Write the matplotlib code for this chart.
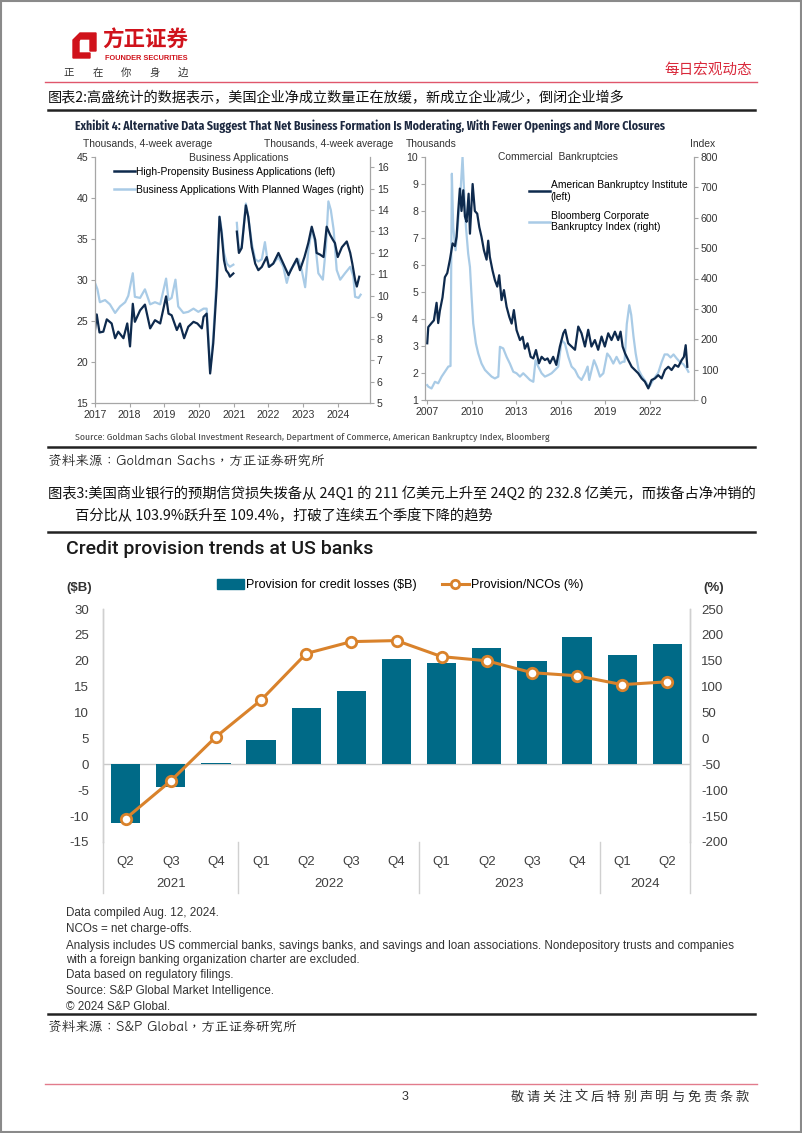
import numpy as np
import matplotlib
matplotlib.use("Agg")
import matplotlib.pyplot as plt
from matplotlib.lines import Line2D
from matplotlib.patches import Polygon, Rectangle
from matplotlib import transforms

plt.rcParams['axes.unicode_minus'] = False

# ---- data: business applications (decimal year, thousands) ----
hp_years = [2017.00, 2017.05, 2017.13, 2017.24, 2017.34, 2017.48, 2017.58, 2017.67, 2017.82, 2017.93,
            2018.01, 2018.09, 2018.15, 2018.30, 2018.44, 2018.59, 2018.73, 2018.88, 2019.05, 2019.12,
            2019.21, 2019.36, 2019.45, 2019.57, 2019.69, 2019.84, 2019.95, 2020.08, 2020.13, 2020.22,
            2020.27, 2020.32, 2020.41, 2020.51, 2020.59, 2020.65, 2020.72, 2020.78, 2020.85, 2020.89,
            2020.99, 2021.03, 2021.09, 2021.15, 2021.23, 2021.35, 2021.42, 2021.52, 2021.62, 2021.71,
            2021.81, 2021.95, 2022.02, 2022.14, 2022.29, 2022.43, 2022.58, 2022.72, 2022.82, 2022.91,
            2023.04, 2023.15, 2023.25, 2023.35, 2023.39, 2023.49, 2023.59, 2023.68, 2023.78, 2023.86,
            2023.92, 2024.00, 2024.12, 2024.26, 2024.36, 2024.42, 2024.50, 2024.55, 2024.62]
hp_apps = [23.9, 25.8, 23.6, 23.7, 25.2, 24.7, 22.9, 23.7, 22.9, 24.7,
           21.9, 27.1, 24.9, 26.3, 27.0, 24.1, 25.1, 24.7, 28.0, 25.9,
           25.7, 23.9, 24.7, 22.9, 24.3, 24.9, 24.7, 24.1, 25.5, 25.9,
           22.3, 18.6, 22.3, 29.2, 37.7, 35.7, 32.4, 31.2, 30.8, 30.4,
           30.8, np.nan, 35.9, 33.3, 33.9, 39.1, 37.7, 34.0, 32.0, 31.2,
           31.6, 32.8, 31.6, 32.0, 33.3, 32.0, 30.6, 31.8, 32.6, 31.2,
           32.8, 34.5, 36.5, 34.9, 33.3, 33.1, 32.8, 36.5, 35.5, 34.9,
           34.5, 32.8, 34.0, 34.7, 33.3, 32.0, 30.0, 29.2, 30.4]

wg_years = [2017.00, 2017.07, 2017.14, 2017.29, 2017.43, 2017.58, 2017.72, 2017.87, 2017.96, 2018.09,
            2018.15, 2018.30, 2018.44, 2018.59, 2018.73, 2018.88, 2019.05, 2019.12, 2019.21, 2019.32,
            2019.40, 2019.55, 2019.69, 2019.84, 2019.98, 2020.13, 2020.22, 2020.27, 2020.32, 2020.41,
            2020.51, 2020.59, 2020.65, 2020.72, 2020.80, 2020.89, 2020.99, 2021.03, 2021.09, 2021.15,
            2021.23, 2021.35, 2021.42, 2021.52, 2021.62, 2021.71, 2021.81, 2021.90, 2022.00, 2022.14,
            2022.29, 2022.43, 2022.53, 2022.63, 2022.77, 2022.87, 2022.96, 2023.06, 2023.15, 2023.25,
            2023.35, 2023.44, 2023.57, 2023.66, 2023.73, 2023.80, 2023.88, 2023.97, 2024.07, 2024.21,
            2024.36, 2024.45, 2024.50, 2024.60, 2024.66]
wg_apps = [10.6, 10.3, 9.7, 9.8, 9.6, 9.2, 9.5, 9.7, 10.0, 11.05,
           9.95, 9.9, 10.3, 9.6, 9.7, 9.6, 10.8, 9.8, 9.9, 10.75,
           9.5, 9.2, 9.25, 9.4, 9.25, 9.4, 9.4, 8.1, 6.5, 8.1,
           10.9, 13.7, 13.1, 12.0, 11.5, 11.35, 11.45, np.nan, 13.4, 12.1,
           12.3, 14.3, 13.7, 12.45, 11.7, 11.6, 11.7, 12.5, 11.35, 11.5,
           11.8, 11.35, 10.6, 11.2, 11.5, 11.7, 11.2, 10.4, 12.1, 13.1,
           12.45, 11.05, 10.75, 12.3, 14.4, 14.0, 13.1, 11.2, 10.75, 11.05,
           11.35, 10.9, 9.95, 9.9, 10.05]

# ---- data: commercial bankruptcies ----
abi_years = [2007.00, 2007.07, 2007.29, 2007.45, 2007.63, 2007.74, 2007.85, 2008.03, 2008.19, 2008.35,
             2008.53, 2008.71, 2008.87, 2008.98, 2009.09, 2009.20, 2009.31, 2009.43, 2009.54, 2009.65,
             2009.79, 2009.88, 2010.06, 2010.21, 2010.37, 2010.51, 2010.66, 2010.82, 2011.00, 2011.11,
             2011.22, 2011.40, 2011.56, 2011.72, 2011.85, 2012.01, 2012.17, 2012.35, 2012.53, 2012.69,
             2012.84, 2013.02, 2013.25, 2013.43, 2013.58, 2013.76, 2013.97, 2014.15, 2014.33, 2014.53,
             2014.71, 2014.93, 2015.11, 2015.27, 2015.49, 2015.70, 2015.94, 2016.17, 2016.30, 2016.50,
             2016.73, 2016.96, 2017.18, 2017.40, 2017.63, 2017.85, 2018.07, 2018.30, 2018.52, 2018.75,
             2018.97, 2019.20, 2019.42, 2019.65, 2019.87, 2020.03, 2020.17, 2020.33, 2020.55, 2020.78,
             2021.00, 2021.22, 2021.45, 2021.67, 2021.90, 2022.12, 2022.35, 2022.57, 2022.80, 2023.02,
             2023.25, 2023.47, 2023.70, 2023.92, 2024.15, 2024.30, 2024.42, 2024.53]
abi_cases = [3.1, 3.7, 3.85, 3.95, 4.6, 3.85, 4.3, 4.8, 5.55, 5.7,
             6.2, 6.8, 6.7, 7.05, 8.0, 8.83, 8.0, 8.77, 7.8, 7.6,
             8.64, 7.16, 9.0, 8.0, 7.9, 7.4, 7.04, 6.55, 6.2, 6.9,
             6.3, 5.8, 5.44, 5.2, 5.62, 4.7, 5.07, 4.45, 4.08, 3.83,
             4.33, 3.59, 3.22, 3.34, 2.9, 3.1, 2.6, 2.54, 2.85, 2.36,
             2.6, 2.48, 2.54, 2.36, 2.6, 2.3, 2.98, 3.47, 3.6, 3.1,
             2.98, 2.86, 3.72, 3.47, 2.98, 3.6, 2.98, 3.22, 2.86, 3.35,
             2.98, 3.47, 3.22, 3.53, 3.22, 3.53, 2.98, 2.73, 2.48, 2.23,
             2.11, 1.99, 1.8, 1.68, 1.43, 1.74, 1.8, 1.92, 1.8, 2.11,
             2.23, 2.11, 2.3, 2.23, 2.48, 2.6, 3.03, 2.23]

bbg_years = [2007.00, 2007.07, 2007.29, 2007.52, 2007.74, 2007.97, 2008.19, 2008.42, 2008.57, 2008.66,
             2008.75, 2008.91, 2009.09, 2009.25, 2009.38, 2009.49, 2009.61, 2009.76, 2009.88, 2009.99,
             2010.10, 2010.28, 2010.44, 2010.66, 2010.89, 2011.11, 2011.34, 2011.56, 2011.79, 2011.90,
             2012.12, 2012.35, 2012.57, 2012.80, 2013.02, 2013.25, 2013.47, 2013.70, 2013.92, 2014.15,
             2014.30, 2014.48, 2014.71, 2014.93, 2015.16, 2015.38, 2015.61, 2015.83, 2016.06, 2016.28,
             2016.51, 2016.73, 2016.96, 2017.18, 2017.40, 2017.63, 2017.81, 2017.92, 2018.08, 2018.24,
             2018.42, 2018.64, 2018.87, 2019.13, 2019.31, 2019.54, 2019.76, 2019.99, 2020.17, 2020.30,
             2020.45, 2020.62, 2020.75, 2020.90, 2021.05, 2021.25, 2021.45, 2021.65, 2021.85, 2022.00,
             2022.15, 2022.35, 2022.57, 2022.80, 2023.00, 2023.20, 2023.40, 2023.60, 2023.81, 2024.03,
             2024.26, 2024.48, 2024.60]
bbg_index = [49, 44, 38, 60, 55, 77, 93, 110, 112, 745,
             570, 493, 592, 690, 800, 680, 570, 482, 438, 340,
             252, 186, 153, 120, 99, 88, 77, 71, 77, 175,
             170, 142, 120, 93, 88, 77, 88, 77, 66, 60,
             131, 110, 88, 77, 82, 88, 99, 110, 197, 186,
             142, 110, 99, 77, 66, 88, 110, 66, 99, 131,
             110, 77, 88, 153, 142, 120, 142, 120, 126, 126,
             250, 312, 280, 210, 153, 99, 80, 66, 50, 45,
             60, 75, 90, 125, 150, 150, 140, 150, 137, 125,
             118, 104, 93]

# ---- data: credit provisions at US banks ----
quarters = ['Q2', 'Q3', 'Q4', 'Q1', 'Q2', 'Q3', 'Q4', 'Q1', 'Q2', 'Q3', 'Q4', 'Q1', 'Q2']
year_labels = ['2021', '2022', '2023', '2024']
year_spans = [3, 4, 4, 2]
provision = [-11.3, -4.3, 0.3, 4.7, 10.9, 14.2, 20.4, 19.5, 22.4, 19.9, 24.5, 21.1, 23.28]
prov_nco = [-155, -82, 3, 74, 164, 187, 189, 158, 150, 127, 121, 103.9, 109.4]

# ---- page setup (pixel helpers, origin top-left) ----
W, H = 802, 1133
fig = plt.figure(figsize=(W / 100, H / 100), dpi=100)
fig.patch.set_facecolor('white')

CJK = ['Noto Sans CJK SC', 'DejaVu Sans']
KAI = ['LXGW WenKai TC', 'Noto Sans CJK SC', 'DejaVu Sans']
ARIAL = ['Liberation Sans', 'DejaVu Sans']
GSC = ['Fira Sans Condensed', 'Liberation Sans', 'DejaVu Sans']
SP = ['Liberation Sans', 'DejaVu Sans']
SPT = ['Roboto', 'Liberation Sans', 'DejaVu Sans']


def box(l, t, r, b):
    return [l / W, 1 - b / H, (r - l) / W, (b - t) / H]


def txt(x, y, s, **kw):
    kw.setdefault('va', 'center')
    return fig.text(x / W, 1 - y / H, s, **kw)


def hline(x0, x1, y, **kw):
    fig.add_artist(Line2D([x0 / W, x1 / W], [1 - y / H, 1 - y / H], **kw))


def fpoly(pts, **kw):
    fig.add_artist(Polygon([(x / W, 1 - y / H) for x, y in pts], closed=True,
                           transform=fig.transFigure, **kw))


# page border
fig.add_artist(Rectangle((0.001, 0.001), 0.998, 0.998, transform=fig.transFigure,
                         fill=False, edgecolor='#8a8a8a', lw=1.5))

# header / logo
RED = '#d0121b'
fpoly([(73, 40), (80, 33), (96, 33), (96, 51), (90, 51), (90, 39), (80, 39), (79, 41),
       (79, 53), (90, 53), (90, 58), (73, 58)], color=RED)
txt(102, 40, '方正证券', family=CJK, fontsize=15.5, fontweight='bold', color=RED)
txt(146, 58.5, 'FOUNDER SECURITIES', family=ARIAL, fontsize=5.3, fontweight='bold',
    color=RED, ha='center')
for i, ch in enumerate('正在你身边'):
    txt(69 + i * 28.5, 73, ch, family=CJK, fontsize=7.5, color='#333333', ha='center')
txt(752, 70, '每日宏观动态', family=CJK, fontsize=10.5, color='#d9283a', ha='right')
hline(45, 757, 82, color='#e0566b', lw=1)

# caption for exhibit 2
txt(48, 98, '图表2:高盛统计的数据表示，美国企业净成立数量正在放缓，新成立企业减少，倒闭企业增多',
    family=CJK, fontsize=10.2, color='#111111')
hline(48, 755, 110, color='#222222', lw=1.8)

txt(75, 126, 'Exhibit 4: Alternative Data Suggest That Net Business Formation Is Moderating, '
    'With Fewer Openings and More Closures', family=GSC, fontsize=8.5,
    fontweight='bold', color='#1d2940')

DARK = '#0e2a4d'
LIGHT = '#a9cbe6'
SPINE = '#a6a6a6'


def gs_style(ax):
    ax.spines['top'].set_visible(False)
    for s in ['left', 'right', 'bottom']:
        ax.spines[s].set_color(SPINE)
        ax.spines[s].set_linewidth(0.9)
    ax.tick_params(direction='out', length=3, width=0.8, color=SPINE,
                   labelsize=7.6, labelcolor='#333333', pad=2)
    for lab in ax.get_xticklabels() + ax.get_yticklabels():
        lab.set_family(ARIAL)


# left panel: business applications
ax1 = fig.add_axes(box(95, 157, 370, 403))
ax1r = ax1.twinx()
ax1.set_zorder(ax1r.get_zorder() + 1)
ax1.patch.set_visible(False)
ax1r.plot(wg_years, wg_apps, color=LIGHT, lw=1.6)
ax1.plot(hp_years, hp_apps, color=DARK, lw=1.6)
ax1.set_xlim(2017, 2024.93)
ax1.set_ylim(15, 45)
ax1r.set_ylim(5, 16.47)
ax1.set_xticks(range(2017, 2025))
ax1.set_yticks(range(15, 46, 5))
ax1r.set_yticks(range(5, 17))
for a in (ax1, ax1r):
    gs_style(a)
ax1r.spines['left'].set_visible(False)
ax1r.spines['bottom'].set_visible(False)
ax1.spines['right'].set_visible(False)
txt(83, 144, 'Thousands, 4-week average', family=ARIAL, fontsize=7.4, color='#333333')
txt(393, 144, 'Thousands, 4-week average', family=ARIAL, fontsize=7.4, color='#333333', ha='right')
txt(239, 158, 'Business Applications', family=ARIAL, fontsize=7.4, color='#333333', ha='center')
ax1.legend([Line2D([], [], color=DARK, lw=1.8), Line2D([], [], color=LIGHT, lw=1.8)],
           ['High-Propensity Business Applications (left)',
            'Business Applications With Planned Wages (right)'],
           loc='upper left', bbox_to_anchor=(114 / W, 1 - 167 / H), bbox_transform=fig.transFigure,
           frameon=False, prop={'family': ARIAL, 'size': 7.4}, handlelength=2.0,
           handletextpad=0.1, labelspacing=0.75, borderaxespad=0, borderpad=0)

# right panel: commercial bankruptcies
ax2 = fig.add_axes(box(425, 157, 694, 400))
ax2r = ax2.twinx()
ax2.set_zorder(ax2r.get_zorder() + 1)
ax2.patch.set_visible(False)
ax2r.plot(bbg_years, bbg_index, color=LIGHT, lw=1.6)
ax2.plot(abi_years, abi_cases, color=DARK, lw=1.6)
ax2.set_xlim(2006.85, 2024.98)
ax2.set_ylim(1, 10)
ax2r.set_ylim(0, 800)
ax2.set_xticks(range(2007, 2023, 3))
ax2.set_yticks(range(1, 11))
ax2r.set_yticks(range(0, 801, 100))
for a in (ax2, ax2r):
    gs_style(a)
ax2r.spines['left'].set_visible(False)
ax2r.spines['bottom'].set_visible(False)
ax2.spines['right'].set_visible(False)
txt(406, 144, 'Thousands', family=ARIAL, fontsize=7.4, color='#333333')
txt(715, 144, 'Index', family=ARIAL, fontsize=7.4, color='#333333', ha='right')
txt(558, 157, 'Commercial  Bankruptcies', family=ARIAL, fontsize=7.4, color='#333333', ha='center')
ax2.legend([Line2D([], [], color=DARK, lw=1.8), Line2D([], [], color=LIGHT, lw=1.8)],
           ['American Bankruptcy Institute\n(left)', 'Bloomberg Corporate\nBankruptcy Index (right)'],
           loc='upper left', bbox_to_anchor=(529 / W, 1 - 180 / H), bbox_transform=fig.transFigure,
           frameon=False, prop={'family': ARIAL, 'size': 7.4}, handlelength=2.0,
           handletextpad=0.1, labelspacing=0.9, borderaxespad=0, borderpad=0)

txt(75, 437, 'Source: Goldman Sachs Global Investment Research, Department of Commerce, '
    'American Bankruptcy Index, Bloomberg', family=GSC, fontsize=7.0, color='#444444')
hline(48, 755, 447, color='#222222', lw=1.8)
txt(48, 461, '资料来源：Goldman Sachs，方正证券研究所', family=KAI, fontsize=9.8,
    color='#222222')

# caption for exhibit 3
txt(48, 494, '图表3:美国商业银行的预期信贷损失拨备从 24Q1 的 211 亿美元上升至 24Q2 的 232.8 亿美元，而拨备占净冲销的',
    family=CJK, fontsize=10.3, color='#111111')
txt(75, 516, '百分比从 103.9%跃升至 109.4%，打破了连续五个季度下降的趋势',
    family=CJK, fontsize=10.3, color='#111111')
hline(48, 755, 532, color='#222222', lw=1.8)

# S&P chart
TEAL = '#006a87'
ORANGE = '#d9822b'
txt(66, 549, 'Credit provision trends at US banks', family=SPT, fontsize=14,
    fontweight='medium', color='#1a1a1a')

ax3 = fig.add_axes(box(103, 609, 690, 842))
ax3r = ax3.twinx()
x = np.arange(len(provision))
ax3.bar(x, provision, width=0.65, color=TEAL, zorder=2)
ax3.axhline(0, color='#c9c9c9', lw=1, zorder=1)
ax3r.plot(x, prov_nco, color=ORANGE, lw=2.2, marker='o', ms=7.5, mfc='white',
          mec=ORANGE, mew=2, zorder=3)
ax3.set_xlim(-0.5, len(provision) - 0.5)
ax3.set_ylim(-15, 30)
ax3r.set_ylim(-200, 250)
ax3.set_yticks(range(-15, 31, 5))
ax3r.set_yticks(range(-200, 251, 50))
ax3.set_xticks(x)
ax3.set_xticklabels(quarters)
for a in (ax3, ax3r):
    for s in ['top', 'bottom']:
        a.spines[s].set_visible(False)
    for s in ['left', 'right']:
        a.spines[s].set_color('#d0d0d0')
        a.spines[s].set_linewidth(1)
ax3.tick_params(axis='y', length=0, pad=10, labelsize=9.5, labelcolor='#404040')
ax3r.tick_params(axis='y', length=0, pad=8, labelsize=9.5, labelcolor='#404040')
ax3.tick_params(axis='x', length=0, pad=10, labelsize=9.5, labelcolor='#404040')
for lab in ax3.get_xticklabels() + ax3.get_yticklabels() + ax3r.get_yticklabels():
    lab.set_family(SP)

# year groups under quarter labels
tr = transforms.blended_transform_factory(ax3.transData, fig.transFigure)
edges = np.concatenate([[0], np.cumsum(year_spans)]) - 0.5
for e in edges:
    ax3.add_artist(Line2D([e, e], [1 - 842 / H, 1 - 893 / H], transform=tr,
                          color='#d0d0d0', lw=1, clip_on=False))
for lab, a, b in zip(year_labels, edges[:-1], edges[1:]):
    ax3.text((a + b) / 2, 1 - 884 / H, lab, transform=tr, ha='center', va='center',
             family=SP, fontsize=9.5, color='#404040')

txt(66, 588, '($B)', family=SP, fontsize=9.5, fontweight='bold', color='#333333')
txt(703, 588, '(%)', family=SP, fontsize=9.5, fontweight='bold', color='#333333')
ax3.legend([Rectangle((0, 0), 1, 1, color=TEAL),
            Line2D([], [], color=ORANGE, lw=2.2, marker='o', ms=6, mfc='white', mec=ORANGE, mew=2)],
           ['Provision for credit losses ($B)', 'Provision/NCOs (%)'],
           loc='center', bbox_to_anchor=(400 / W, 1 - 585 / H), bbox_transform=fig.transFigure,
           ncol=2, frameon=False, prop={'family': SP, 'size': 9.0}, handlelength=2.2,
           handleheight=0.8, handletextpad=0.15, columnspacing=2.0, borderpad=0)

notes = ['Data compiled Aug. 12, 2024.',
         'NCOs = net charge-offs.',
         'Analysis includes US commercial banks, savings banks, and savings and loan associations. '
         'Nondepository trusts and companies\nwith a foreign banking organization charter are excluded.',
         'Data based on regulatory filings.',
         'Source: S&P Global Market Intelligence.',
         '\u00a9 2024 S&P Global.']
note_y = [913, 929, 953, 975, 991, 1007]
for s, yy in zip(notes, note_y):
    txt(66, yy, s, family=SP, fontsize=8.4, color='#333333', linespacing=1.15)
hline(48, 755, 1014, color='#222222', lw=1.8)
txt(48, 1027, '资料来源：S&P Global，方正证券研究所', family=KAI, fontsize=9.8,
    color='#222222')

# footer
hline(45, 757, 1084, color='#e27b8c', lw=1)
txt(405, 1097, '3', family=ARIAL, fontsize=9, color='#333333', ha='center')
for i, ch in enumerate('敬请关注文后特别声明与免责条款'):
    txt(517 + i * 16.1, 1097, ch, family=CJK, fontsize=9.5, color='#333333', ha='center')

fig.savefig('out.png', dpi=100, facecolor='white')
